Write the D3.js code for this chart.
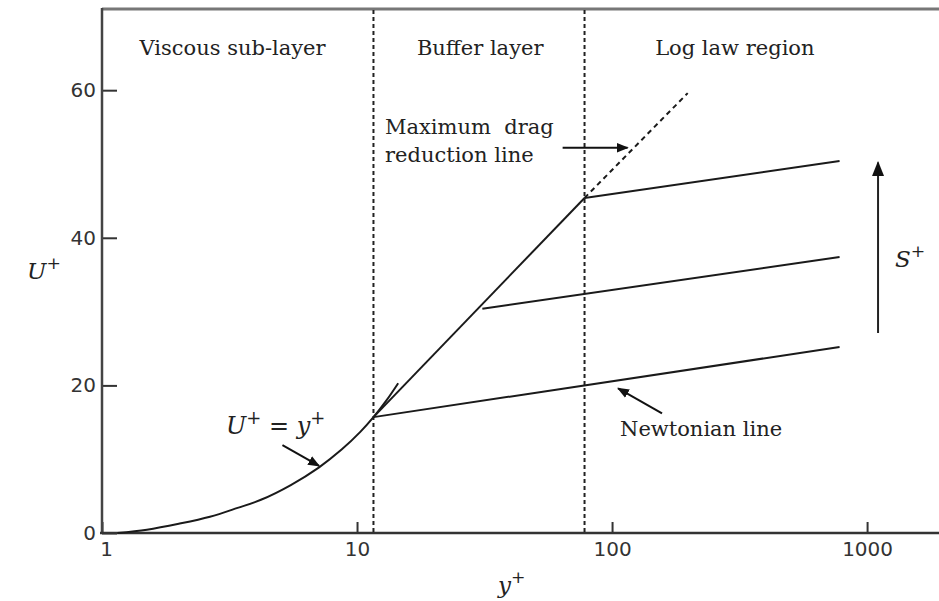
<!DOCTYPE html>
<html>
<head>
  <meta charset="utf-8">
  <script src="https://d3js.org/d3.v7.min.js"></script>
  <style>
    body { margin: 0; background: #fff; }
    svg { display: block; }
    .serif { font-family: "DejaVu Serif", "Liberation Serif", serif; fill: #222; }
    .math { font-family: "DejaVu Serif", serif; font-style: italic; fill: #222; }
    .tick text { font-family: "DejaVu Sans", sans-serif; font-size: 20px; fill: #333; }
  </style>
</head>
<body>
<div id="chart"></div>
<script>
  // axis ticks
  const xTicks = [1, 10, 100, 1000];
  const yTicks = [0, 20, 40, 60];

  // region boundaries (y+) and their titles
  const regionEdges = [11.6, 78];
  const regionNames = ["Viscous sub-layer", "Buffer layer", "Log law region"];
  const regionCentres = [3.25, 30.4, 303];

  // viscous sub-layer U+ = y+ (as drawn in the figure), [y+, U+]
  const viscous = [[1.15, 0], [1.5, 0.45], [2, 1.25], [2.65, 2.2], [3.4, 3.4], [4.2, 4.5], [5.5, 6.5],
                   [7.1, 8.9], [8.7, 11.3], [10.3, 13.7], [11.6, 15.7], [13, 17.9], [14.5, 20.3]];

  // maximum drag reduction line: solid part and dashed extension
  const mdrSolid = [[11.6, 15.7], [78, 45.4]];
  const mdrDashed = [[78, 45.4], [198, 59.6]];

  // log-law lines for increasing S+ (first is the Newtonian line)
  const logLaws = [
    [[11.6, 15.7], [780, 25.2]],
    [[31, 30.4], [780, 37.4]],
    [[78, 45.4], [780, 50.4]]
  ];

  const W = 939, H = 601;
  const x = d3.scaleLog().domain([1, 1880]).range([102, 937]);
  const y = d3.scaleLinear().domain([0, 71]).range([533, 9]);

  const svg = d3.select("#chart").append("svg")
    .attr("width", W).attr("height", H);

  const defs = svg.append("defs");
  [["head", 12], ["headBig", 15]].forEach(([id, s]) => {
    defs.append("marker")
      .attr("id", id)
      .attr("viewBox", "0 0 10 10")
      .attr("refX", 9).attr("refY", 5)
      .attr("markerWidth", s).attr("markerHeight", s)
      .attr("markerUnits", "userSpaceOnUse")
      .attr("orient", "auto")
      .append("path").attr("d", "M0,1 L10,5 L0,9 Z").attr("fill", "#111");
  });

  // frame: top line, left and bottom axes
  svg.append("line").attr("x1", x.range()[0]).attr("x2", W).attr("y1", 9).attr("y2", 9)
    .attr("stroke", "#777").attr("stroke-width", 3);

  const yAxis = svg.append("g")
    .attr("transform", `translate(${x.range()[0]},0)`)
    .call(d3.axisLeft(y).tickValues(yTicks).tickSizeInner(-15).tickSizeOuter(0).tickPadding(6));
  yAxis.select(".domain").remove();
  yAxis.selectAll(".tick line").attr("stroke", "#333").attr("stroke-width", 2);

  const xAxis = svg.append("g")
    .attr("transform", `translate(0,${y(0)})`)
    .call(d3.axisBottom(x).tickValues(xTicks).tickFormat(d3.format("d")).tickSizeInner(-11).tickSizeOuter(0).tickPadding(9));
  xAxis.select(".domain").remove();
  xAxis.selectAll(".tick line").attr("stroke", "#333").attr("stroke-width", 2);
  xAxis.selectAll(".tick text").attr("dx", d => d === 1 ? 4 : 0);

  svg.append("line").attr("x1", x.range()[0]).attr("x2", x.range()[0]).attr("y1", 8).attr("y2", y(0) + 1)
    .attr("stroke", "#444").attr("stroke-width", 2.5);
  svg.append("line").attr("x1", x.range()[0] - 2).attr("x2", W).attr("y1", y(0)).attr("y2", y(0))
    .attr("stroke", "#333").attr("stroke-width", 2.5);

  // region separators
  svg.selectAll(".sep").data(regionEdges).join("line")
    .attr("class", "sep")
    .attr("x1", d => x(d)).attr("x2", d => x(d))
    .attr("y1", 10).attr("y2", y(0))
    .attr("stroke", "#222").attr("stroke-width", 2)
    .attr("stroke-dasharray", "4,3");

  svg.selectAll(".region").data(regionNames).join("text")
    .attr("class", "serif region")
    .attr("x", (d, i) => x(regionCentres[i]))
    .attr("y", 55)
    .attr("text-anchor", "middle")
    .attr("font-size", 21)
    .text(d => d);

  const line = d3.line().x(d => x(d[0])).y(d => y(d[1]));
  const curve = d3.line().x(d => x(d[0])).y(d => y(d[1])).curve(d3.curveCatmullRom);

  svg.append("path").datum(viscous).attr("d", curve)
    .attr("fill", "none").attr("stroke", "#1a1a1a").attr("stroke-width", 2);

  svg.append("path").datum(mdrSolid).attr("d", line)
    .attr("fill", "none").attr("stroke", "#1a1a1a").attr("stroke-width", 2);
  svg.append("path").datum(mdrDashed).attr("d", line)
    .attr("fill", "none").attr("stroke", "#1a1a1a").attr("stroke-width", 2)
    .attr("stroke-dasharray", "5,4");

  svg.selectAll(".loglaw").data(logLaws).join("path")
    .attr("class", "loglaw")
    .attr("d", line)
    .attr("fill", "none").attr("stroke", "#1a1a1a").attr("stroke-width", 2);

  // annotations: arrows [from, to] in data coordinates
  const arrows = [
    [[64, 52.2], [115, 52.2]],
    [[157, 16.2], [105.6, 19.6]],
    [[5.1, 11.9], [7.1, 9.1]]
  ];
  svg.selectAll(".ann").data(arrows).join("line")
    .attr("class", "ann")
    .attr("x1", d => x(d[0][0])).attr("y1", d => y(d[0][1]))
    .attr("x2", d => x(d[1][0])).attr("y2", d => y(d[1][1]))
    .attr("stroke", "#111").attr("stroke-width", 2)
    .attr("marker-end", "url(#head)");

  // S+ arrow
  svg.append("line")
    .attr("x1", x(1104)).attr("x2", x(1104))
    .attr("y1", y(27.1)).attr("y2", y(50.2))
    .attr("stroke", "#222").attr("stroke-width", 2)
    .attr("marker-end", "url(#headBig)");

  svg.append("text").attr("class", "serif").attr("font-size", 21)
    .attr("x", 385).attr("y", 134).attr("xml:space", "preserve").text("Maximum  drag");
  svg.append("text").attr("class", "serif").attr("font-size", 21)
    .attr("x", 385).attr("y", 162).text("reduction line");
  svg.append("text").attr("class", "serif").attr("font-size", 21)
    .attr("x", 620).attr("y", 436).text("Newtonian line");

  function supText(xp, yp, parts, size) {
    const t = svg.append("text").attr("class", "math").attr("x", xp).attr("y", yp).attr("font-size", size);
    parts.forEach(p => {
      const s = t.append("tspan").text(p[0]);
      if (p[1]) s.attr("font-size", size * 0.75).attr("dy", -size * 0.42).attr("font-style", "normal");
      if (p[2]) s.attr("dy", size * 0.42);
    });
    return t;
  }

  supText(226, 434, [["U"], ["+", true], [" = ", false, true], ["y"], ["+", true]], 24);
  supText(27, 279, [["U"], ["+", true]], 23);
  supText(498, 593, [["y"], ["+", true]], 23);
  supText(895, 267, [["S"], ["+", true]], 23);
</script>
</body>
</html>
